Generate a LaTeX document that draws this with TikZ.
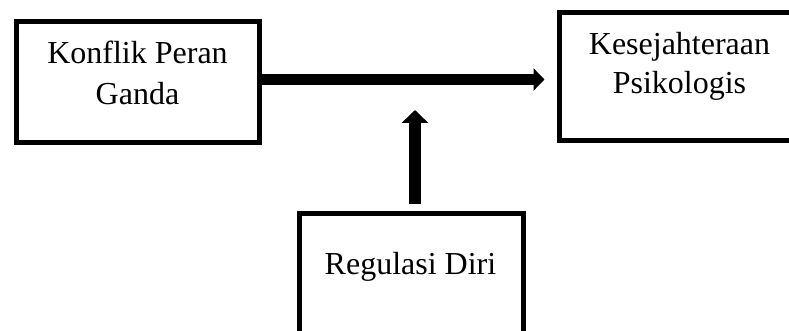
\documentclass[tikz,border=0pt]{standalone}
\usepackage{fontspec}
\setmainfont{Liberation Serif}
\usetikzlibrary{arrows.meta}
\begin{document}
\begin{tikzpicture}[x=0.75pt,y=-0.75pt,
  box/.style={draw=black,line width=3.75pt,rectangle,inner sep=0pt,outer sep=0pt},
  lbl/.style={anchor=base,inner sep=0pt,font=\fontsize{24pt}{30pt}\selectfont},
  hconn/.style={line width=8.25pt,-{Triangle[length=8.25pt,width=16.5pt]}},
  vconn/.style={line width=9pt,-{Triangle[length=9.75pt,width=19.5pt]}}]
\useasboundingbox (0,0) rectangle (789,331);
\fill[white] (0,0) rectangle (789,331);
\clip (0,0) rectangle (789,331);
% boxes
\node[box,minimum width=182.25pt,minimum height=90.75pt] (konflik) at (137.5,82) {};
\node[box,minimum width=180.75pt,minimum height=96pt] (kesej) at (680,76.5) {};
\node[box,minimum width=168pt,minimum height=90pt] (regul) at (411,274) {};
% labels
\node[lbl] (k1) at (137.5,64) {Konflik Peran};
\node[lbl] (k2) at (137.5,105) {Ganda};
\node[lbl] (s1) at (679.5,55) {Kesejahteraan};
\node[lbl] (s2) at (679.5,94) {Psikologis};
\node[lbl] (r1) at (410.5,275) {Regulasi Diri};
% connector ends
\coordinate (hstart) at (259,79.5);
\coordinate (htip) at (544.5,79.5);
\coordinate (vstart) at (415,204);
\coordinate (vtip) at (415,110);
\draw[hconn] (hstart) -- (htip);
\draw[vconn] (vstart) -- (vtip);
\end{tikzpicture}
\end{document}
